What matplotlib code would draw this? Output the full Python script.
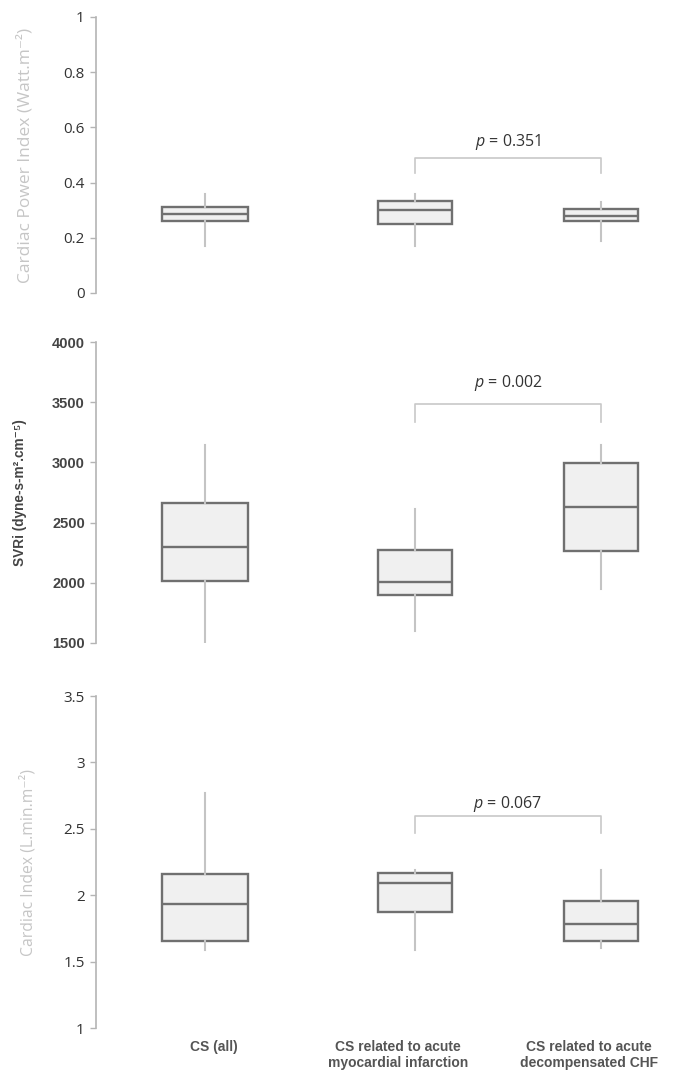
import matplotlib
matplotlib.use("Agg")
import matplotlib.pyplot as plt

# ---- data ----
groups = ["CS (all)", "CS related to acute\nmyocardial infarction",
          "CS related to acute\ndecompensated CHF"]

# Cardiac Power Index (Watt.m-2): low whisker, q1, median, q3, high whisker
cpi_lo = [0.17, 0.17, 0.19]
cpi_q1 = [0.26, 0.25, 0.26]
cpi_med = [0.285, 0.30, 0.28]
cpi_q3 = [0.31, 0.333, 0.304]
cpi_hi = [0.36, 0.36, 0.33]

# SVRi
svri_lo = [1500, 1600, 1950]
svri_q1 = [2015, 1900, 2265]
svri_med = [2300, 2005, 2630]
svri_q3 = [2660, 2270, 2995]
svri_hi = [3145, 2615, 3145]

# Cardiac Index (L.min.m-2)
ci_lo = [1.59, 1.59, 1.60]
ci_q1 = [1.655, 1.87, 1.655]
ci_med = [1.935, 2.09, 1.78]
ci_q3 = [2.16, 2.17, 1.955]
ci_hi = [2.77, 2.19, 2.19]

p_values = ["0.351", "0.002", "0.067"]

# ---- layout ----
W, H = 692, 1073
xpos = [1.0, 2.0, 2.886]
bwidth = [0.414, 0.352, 0.352]
xlim = (0.481, 3.319)

plt.rcParams['mathtext.fontset'] = 'custom'
plt.rcParams['mathtext.it'] = 'Open Sans:italic'
plt.rcParams['mathtext.rm'] = 'Open Sans'

fig = plt.figure(figsize=(W / 100, H / 100), dpi=100)

open_fam = ['Open Sans', 'DejaVu Sans']
lib_fam = ['Liberation Sans', 'DejaVu Sans']

panels = [
    dict(top=17, bot=293, lo=cpi_lo, q1=cpi_q1, med=cpi_med, q3=cpi_q3, hi=cpi_hi,
         ylim=(0, 1), ticks=[0, 0.2, 0.4, 0.6, 0.8, 1],
         tlabels=["0", "0.2", "0.4", "0.6", "0.8", "1"],
         ylabel="Cardiac Power Index (Watt.m⁻²)", lab_x=25, lab_size=12.5,
         lab_color="#c6c6c6", fam=open_fam, weight="normal", tcolor="#333333",
         tsize=11, brk=(0.489, 0.435, 0.547)),
    dict(top=342, bot=643, lo=svri_lo, q1=svri_q1, med=svri_med, q3=svri_q3, hi=svri_hi,
         ylim=(1500, 4000), ticks=[1500, 2000, 2500, 3000, 3500, 4000],
         tlabels=["1500", "2000", "2500", "3000", "3500", "4000"],
         ylabel="SVRi (dyne-s-m².cm⁻⁵)", lab_x=20, lab_size=9.8,
         lab_color="#444444", fam=lib_fam, weight="bold", tcolor="#444444",
         tsize=10.5, brk=(3485, 3336, 3660)),
    dict(top=696, bot=1028, lo=ci_lo, q1=ci_q1, med=ci_med, q3=ci_q3, hi=ci_hi,
         ylim=(1, 3.5), ticks=[1, 1.5, 2, 2.5, 3, 3.5],
         tlabels=["1", "1.5", "2", "2.5", "3", "3.5"],
         ylabel="Cardiac Index (L.min.m⁻²)", lab_x=28, lab_size=11.3,
         lab_color="#c6c6c6", fam=open_fam, weight="normal", tcolor="#333333",
         tsize=11, brk=(2.60, 2.47, 2.69)),
]

for i, pnl in enumerate(panels):
    ax = fig.add_axes([96 / W, 1 - pnl['bot'] / H, (W - 96) / W, (pnl['bot'] - pnl['top']) / H])
    stats = []
    for k in range(3):
        stats.append(dict(whislo=pnl['lo'][k], q1=pnl['q1'][k], med=pnl['med'][k],
                          q3=pnl['q3'][k], whishi=pnl['hi'][k], fliers=[]))
    ax.bxp(stats, positions=xpos, widths=bwidth, showcaps=False, showfliers=False,
           patch_artist=True,
           boxprops=dict(facecolor="#f0f0f0", edgecolor="#707070", linewidth=1.7),
           medianprops=dict(color="#707070", linewidth=1.7),
           whiskerprops=dict(color="#c4c4c4", linewidth=1.5))
    ax.set_xlim(*xlim)
    ax.set_ylim(*pnl['ylim'])
    ax.set_yticks(pnl['ticks'])
    ax.set_yticklabels(pnl['tlabels'], family=pnl['fam'], fontweight=pnl['weight'],
                       fontsize=pnl['tsize'], color=pnl['tcolor'])
    ax.set_xticks([])
    for s in ['top', 'right', 'bottom']:
        ax.spines[s].set_visible(False)
    ax.spines['left'].set_color("#b4b4b4")
    ax.spines['left'].set_linewidth(1.2)
    ax.tick_params(axis='y', length=4, width=1.0, color="#b4b4b4", pad=4)
    ax.patch.set_visible(False)

    fig.text(pnl['lab_x'] / W, 1 - (pnl['top'] + pnl['bot']) / 2 / H, pnl['ylabel'],
             rotation=90, ha='center', va='center', fontsize=pnl['lab_size'],
             color=pnl['lab_color'], family=pnl['fam'], fontweight=pnl['weight'])

    # significance bracket between the two CS subgroups
    yb, ye, yt = pnl['brk']
    ax.plot([xpos[1], xpos[1], xpos[2], xpos[2]], [ye, yb, yb, ye],
            color="#c8c8c8", linewidth=1.2, clip_on=False)
    ax.text((xpos[1] + xpos[2]) / 2, yt, "$p$ = " + p_values[i], ha='center', va='center',
            fontsize=11.5, color="#333333", family=open_fam)

    if i == 2:
        label_x = [1.04, 1.92, 2.83]
        for k, g in enumerate(groups):
            ax.text(label_x[k], -0.035, g, transform=ax.get_xaxis_transform(),
                    ha='center', va='top', fontsize=10, fontweight='bold',
                    color="#555555", family=lib_fam, linespacing=1.2)

fig.savefig("out.png", dpi=100)
